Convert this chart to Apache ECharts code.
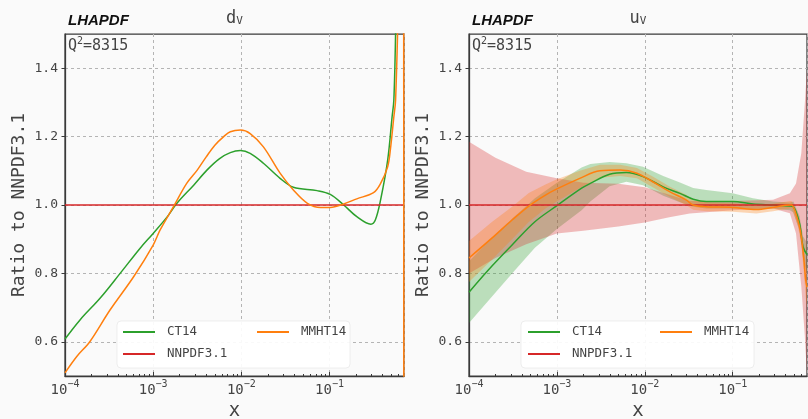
<!DOCTYPE html>
<html>
<head>
<meta charset="utf-8">
<script src="https://cdn.jsdelivr.net/npm/echarts@6/dist/echarts.min.js"></script>
<style>
  html, body { margin: 0; padding: 0; background: #fafafa; }
  #chart { width: 808px; height: 419px; }
</style>
</head>
<body>
<div id="chart"></div>
<script>
// ---------- d_V panel: ratios to NNPDF3.1 ----------
const dvCT14X = [1e-4, 1.48e-4, 2.51e-4, 4.22e-4, 7.08e-4, 1e-3, 1.45e-3, 1.86e-3, 2.88e-3, 4.07e-3,
  5.62e-3, 7.5e-3, 9.77e-3, 1.26e-2, 1.78e-2, 2.75e-2, 3.89e-2, 7.24e-2, 0.102, 0.145,
  0.204, 0.295, 0.331, 0.380, 0.457, 0.513, 0.537, 0.562, 0.589];
const dvCT14Y = [0.608, 0.664, 0.728, 0.800, 0.873, 0.917, 0.966, 1.005, 1.058, 1.102,
  1.135, 1.153, 1.159, 1.151, 1.122, 1.078, 1.052, 1.042, 1.031, 1.000,
  0.966, 0.944, 0.956, 1.015, 1.131, 1.258, 1.307, 1.5, 1.8];

const dvMMHTX = [1e-4, 1.36e-4, 1.92e-4, 3.24e-4, 6.03e-4, 1e-3, 1.2e-3, 1.7e-3, 2.4e-3, 3.16e-3,
  3.98e-3, 5.01e-3, 6.31e-3, 7.5e-3, 9.77e-3, 1.26e-2, 1.78e-2, 2.75e-2, 3.89e-2, 5.62e-2,
  7.94e-2, 0.102, 0.145, 0.204, 0.316, 0.380, 0.457, 0.490, 0.537, 0.562,
  0.603, 0.692, 0.697];
const dvMMHTY = [0.509, 0.557, 0.601, 0.693, 0.791, 0.883, 0.927, 0.995, 1.063, 1.102,
  1.140, 1.175, 1.200, 1.214, 1.219, 1.209, 1.170, 1.093, 1.044, 1.005,
  0.993, 0.993, 1.003, 1.018, 1.036, 1.063, 1.112, 1.161, 1.258, 1.307,
  1.6, 2.5, -1.0];

// ---------- u_V panel: ratios to NNPDF3.1 with uncertainty bands ----------
const uvNNPDFX = [1e-4, 2.0e-4, 4.47e-4, 1e-3, 2.0e-3, 5.0e-3, 1e-2, 1.9e-2, 3.24e-2, 0.1,
  0.288, 0.447, 0.525, 0.603, 0.661, 0.70];
const uvNNPDFHi = [1.185, 1.138, 1.097, 1.078, 1.065, 1.062, 1.052, 1.030, 1.012, 1.012,
  1.015, 1.034, 1.063, 1.151, 1.297, 1.40];
const uvNNPDFLo = [0.800, 0.845, 0.885, 0.917, 0.925, 0.937, 0.949, 0.964, 0.975, 0.985,
  0.990, 0.976, 0.917, 0.762, 0.616, 0.50];

const uvCT14X = [1e-4, 1.66e-4, 3.09e-4, 5.62e-4, 1e-3, 1.91e-3, 2.4e-3, 3.98e-3, 6.17e-3, 9.55e-3,
  1.62e-2, 2.51e-2, 3.55e-2, 5.01e-2, 0.1, 0.17, 0.288, 0.447, 0.49, 0.575, 0.631, 0.70];
const uvCT14Y = [0.745, 0.81, 0.883, 0.951, 0.998, 1.049, 1.063, 1.090, 1.095, 1.083,
  1.053, 1.034, 1.017, 1.010, 1.010, 1.003, 1.000, 0.997, 0.995, 0.947, 0.878, 0.855];
const uvCT14Lo = [0.655, 0.72, 0.80, 0.875, 0.93, 0.985, 1.01, 1.055, 1.068, 1.058,
  1.027, 1.008, 0.995, 0.99, 0.99, 0.988, 0.99, 0.985, 0.978, 0.925, 0.845, 0.80];
const uvCT14Hi = [0.835, 0.895, 0.96, 1.02, 1.065, 1.11, 1.12, 1.126, 1.122, 1.112,
  1.085, 1.066, 1.050, 1.044, 1.034, 1.020, 1.010, 1.007, 1.010, 0.968, 0.908, 0.89];

const uvMMHTX = [1e-4, 1.82e-4, 3.09e-4, 4.79e-4, 7.41e-4, 1e-3, 1.82e-3, 3.09e-3, 5.25e-3, 8.13e-3,
  1.23e-2, 1.91e-2, 2.95e-2, 3.55e-2, 5.01e-2, 0.1, 0.186, 0.288, 0.447, 0.468,
  0.55, 0.603, 0.646, 0.676, 0.70];
const uvMMHTY = [0.845, 0.903, 0.956, 0.997, 1.029, 1.047, 1.078, 1.100, 1.102, 1.093,
  1.068, 1.039, 1.015, 1.0, 0.995, 0.993, 0.987, 0.993, 1.0, 1.0,
  0.956, 0.907, 0.839, 0.780, 0.76];
const uvMMHTLo = [0.775, 0.84, 0.90, 0.95, 0.99, 1.01, 1.05, 1.08, 1.085, 1.078,
  1.052, 1.024, 1.0, 0.986, 0.982, 0.98, 0.975, 0.982, 0.99, 0.99,
  0.94, 0.885, 0.80, 0.73, 0.70];
const uvMMHTHi = [0.895, 0.95, 0.995, 1.035, 1.06, 1.075, 1.10, 1.118, 1.118, 1.108,
  1.083, 1.054, 1.03, 1.014, 1.008, 1.005, 1.0, 1.004, 1.012, 1.012,
  0.972, 0.93, 0.87, 0.83, 0.81];

// NNPDF3.1 central value (reference set, ratio of one)
const nnpdfX = [1e-4, 0.7];
const nnpdfY = [1.0, 1.0];

// ---------- axes / labels ----------
const xMin = 1e-4, xMax = 0.7;
const yMin = 0.5, yMax = 1.5;
const yTicks = [0.6, 0.8, 1.0, 1.2, 1.4];
const panelTitles = [['d', 'V'], ['u', 'V']];
const scaleLabel = ['Q', '2', '=8315'];
const legendCol1 = ['CT14', 'NNPDF3.1'];
const legendCol2 = ['MMHT14'];

const GREEN = '#2ca02c', RED = '#d62728', ORANGE = '#ff7f0e';
const MONO = "'DejaVu Sans Mono', monospace";
const TXT = '#444';
const FRAME = '#3a3a3a';

const grids = [
  { left: 65, top: 34, width: 339, height: 342 },
  { left: 469, top: 34, width: 338, height: 342 }
];

// minor tick positions (log10 space) for the x axes
const logMax = Math.log10(xMax);
const minorLog = [];
for (let k = -4; k <= -1; k++) {
  for (let m = 2; m <= 9; m++) {
    const v = Math.log10(m) + k;
    if (v < logMax) minorLog.push(v);
  }
}

const zip = (xs, ys) => xs.map((x, i) => [x, ys[i]]);

function lineSeries(name, idx, xs, ys, color) {
  return {
    name, type: 'line', xAxisIndex: idx, yAxisIndex: idx,
    data: zip(xs, ys), symbol: 'none', smooth: 0.35,
    lineStyle: { color, width: 1.5 }, itemStyle: { color },
    z: 3, silent: true, animation: false
  };
}

function bandSeries(idx, xs, lo, hi, color) {
  return {
    type: 'custom', xAxisIndex: idx, yAxisIndex: idx, silent: true, z: 1,
    animation: false,
    data: xs.map((x, i) => [x, lo[i], hi[i]]),
    encode: { x: 0, y: [1, 2] },
    renderItem(params, api) {
      if (params.dataIndex !== 0) return null;
      const top = xs.map((x, i) => api.coord([x, hi[i]]));
      const bot = xs.map((x, i) => api.coord([x, lo[i]])).reverse();
      const cs = params.coordSys;
      return {
        type: 'polygon',
        shape: { points: top.concat(bot) },
        style: { fill: color, opacity: 0.3 },
        clipPath: { type: 'rect', shape: { x: cs.x, y: cs.y, width: cs.width, height: cs.height } }
      };
    }
  };
}

const xAxes = [], yAxes = [];
grids.forEach((g, i) => {
  xAxes.push({
    type: 'log', logBase: 10, gridIndex: i, min: xMin, max: xMax, position: 'bottom',
    name: 'x', nameLocation: 'middle', nameGap: 23,
    nameTextStyle: { fontFamily: MONO, fontSize: 19, color: TXT },
    axisLine: { show: true, lineStyle: { color: FRAME, width: 1.25 } },
    axisTick: { show: true, inside: true, length: 4, lineStyle: { color: FRAME } },
    splitLine: { show: true, lineStyle: { color: '#b4b4b4', type: [3, 3], width: 1 } },
    axisLabel: {
      showMaxLabel: false, margin: 3,
      formatter: v => '{b|10}{s|\u2212' + Math.round(-Math.log10(v)) + '}',
      rich: {
        b: { fontFamily: MONO, fontSize: 14, color: TXT, verticalAlign: 'bottom', lineHeight: 18 },
        s: { fontFamily: MONO, fontSize: 10, color: TXT, verticalAlign: 'top', lineHeight: 11 }
      }
    }
  });
  yAxes.push({
    type: 'value', gridIndex: i, min: yMin, max: yMax,
    name: 'Ratio to NNPDF3.1', nameLocation: 'middle', nameGap: 37, nameRotate: 90,
    nameTextStyle: { fontFamily: MONO, fontSize: 18, color: TXT },
    axisLine: { show: true, lineStyle: { color: FRAME, width: 1.25 } },
    axisTick: { show: true, length: 3.5, customValues: yTicks, lineStyle: { color: FRAME } },
    splitLine: { show: true, customValues: yTicks, lineStyle: { color: '#b4b4b4', type: [3, 3], width: 1 } },
    axisLabel: {
      customValues: yTicks, margin: 7, fontFamily: MONO, fontSize: 13, color: TXT,
      formatter: v => v.toFixed(1)
    }
  });
});
// minor tick axes (log10 of x, linear)
grids.forEach((g, i) => {
  xAxes.push({
    type: 'value', gridIndex: i, min: -4, max: logMax, position: 'bottom',
    axisLine: { show: false }, axisLabel: { show: false }, splitLine: { show: false },
    axisTick: { show: true, inside: true, length: 2, customValues: minorLog, lineStyle: { color: FRAME } }
  });
});

const series = [
  // d_V
  lineSeries('CT14', 0, dvCT14X, dvCT14Y, GREEN),
  lineSeries('NNPDF3.1', 0, nnpdfX, nnpdfY, RED),
  lineSeries('MMHT14', 0, dvMMHTX, dvMMHTY, ORANGE),
  // u_V bands
  bandSeries(1, uvCT14X, uvCT14Lo, uvCT14Hi, GREEN),
  bandSeries(1, uvNNPDFX, uvNNPDFLo, uvNNPDFHi, RED),
  bandSeries(1, uvMMHTX, uvMMHTLo, uvMMHTHi, ORANGE),
  // u_V central values
  lineSeries('CT14', 1, uvCT14X, uvCT14Y, GREEN),
  lineSeries('NNPDF3.1', 1, nnpdfX, nnpdfY, RED),
  lineSeries('MMHT14', 1, uvMMHTX, uvMMHTY, ORANGE)
];

function legendBlock(data, left, top) {
  return {
    data, left, top, orient: 'vertical', padding: 0, itemGap: 6,
    itemWidth: 32, itemHeight: 2, icon: 'rect', selectedMode: false, z: 10,
    textStyle: { fontFamily: MONO, fontSize: 12.5, color: TXT, lineHeight: 16, padding: [0, 0, 0, 7] }
  };
}
const legends = [
  legendBlock(legendCol1, 123, 324), legendBlock(legendCol2, 257, 324),
  legendBlock(legendCol1, 528, 324), legendBlock(legendCol2, 660, 324)
];

const graphics = [];
grids.forEach((g, i) => {
  // legend frame
  graphics.push({
    type: 'rect', z: 5, silent: true,
    shape: { x: g.left + 52, y: 321, width: 233, height: 47, r: 4 },
    style: { fill: 'rgba(255,255,255,0.92)', stroke: 'rgba(220,220,220,0.6)', lineWidth: 0.8 }
  });
  // LHAPDF tag
  graphics.push({
    type: 'text', left: g.left + 3, top: 13, z: 10,
    style: { text: 'LHAPDF', font: "italic bold 15px 'Liberation Sans Narrow', 'Liberation Sans', sans-serif", fill: '#111' }
  });
  // panel title with subscript
  graphics.push({
    type: 'text', x: g.left + g.width / 2, y: 7, z: 10,
    style: {
      text: '{b|' + panelTitles[i][0] + '}{s|' + panelTitles[i][1] + '}',
      align: 'center', verticalAlign: 'top',
      rich: {
        b: { fontFamily: MONO, fontSize: 17, fill: TXT, verticalAlign: 'bottom', lineHeight: 20 },
        s: { fontFamily: MONO, fontSize: 11, fill: TXT, verticalAlign: 'bottom', lineHeight: 11, padding: [7, 0, 0, 0] }
      }
    }
  });
  // scale label
  graphics.push({
    type: 'text', x: g.left + 3, y: 36, z: 10,
    style: {
      text: '{b|' + scaleLabel[0] + '}{s|' + scaleLabel[1] + '}{b|' + scaleLabel[2] + '}',
      align: 'left', verticalAlign: 'top',
      rich: {
        b: { fontFamily: MONO, fontSize: 15, fill: TXT, verticalAlign: 'bottom', lineHeight: 18 },
        s: { fontFamily: MONO, fontSize: 10, fill: TXT, verticalAlign: 'bottom', lineHeight: 10, padding: [0, 0, 8, 0] }
      }
    }
  });
});

const chart = echarts.init(document.getElementById('chart'), null, { renderer: 'canvas' });
chart.setOption({
  backgroundColor: '#fafafa',
  animation: false,
  grid: grids.map(g => Object.assign({
    show: true, backgroundColor: '#fafafa', borderColor: FRAME, borderWidth: 1.25,
    containLabel: false, outerBoundsMode: 'none'
  }, g)),
  xAxis: xAxes,
  yAxis: yAxes,
  legend: legends,
  series,
  graphic: graphics
});
</script>
</body>
</html>
